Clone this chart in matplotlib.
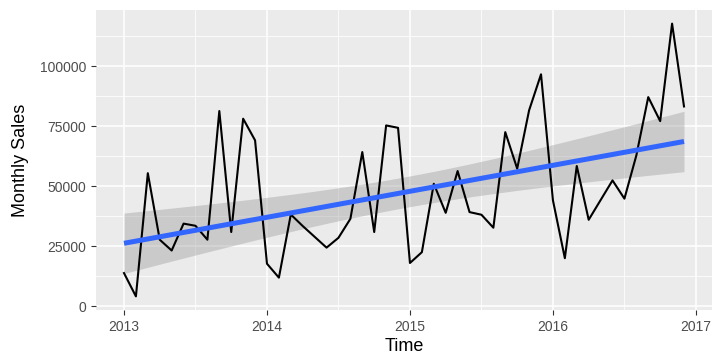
import matplotlib.pyplot as plt
import numpy as np

# monthly sales, Jan 2013 .. Dec 2016
sales = [13900, 4200, 55500, 27800, 23300, 34500, 33600, 27800, 81400, 31000, 78200, 69200,
         17800, 12000, 38300, 33500, 29000, 24500, 28600, 36500, 64300, 31000, 75400, 74400,
         18100, 22600, 51100, 39000, 56400, 39300, 38200, 32800, 72600, 57400, 81700, 96700,
         44200, 20100, 58500, 36100, 44300, 52500, 44900, 62900, 87200, 77200, 117800, 83300]
start_year = 2013
x_ticks = [2013, 2014, 2015, 2016, 2017]
y_ticks = [0, 25000, 50000, 75000, 100000]

t = start_year + np.arange(len(sales)) / 12.0
y = np.array(sales, dtype=float)

# linear fit with 95% confidence band (like geom_smooth(method='lm'))
n = len(t)
b, a = np.polyfit(t, y, 1)
fit = a + b * t
resid = y - fit
s = np.sqrt(np.sum(resid ** 2) / (n - 2))
tcrit = 2.0129  # t(0.975, 46)
se = s * np.sqrt(1.0 / n + (t - t.mean()) ** 2 / np.sum((t - t.mean()) ** 2))
lo = fit - tcrit * se
hi = fit + tcrit * se

plt.rcParams['font.family'] = ['Liberation Sans', 'DejaVu Sans']

fig = plt.figure(figsize=(7.2, 3.59), dpi=100)
ax = fig.add_axes([96 / 720, 1 - 310 / 359, 616 / 720, 300 / 359])
ax.set_facecolor('#EBEBEB')

# grid
for xv in np.arange(2012.5, 2017.6, 0.5):
    major = abs(xv - round(xv)) < 1e-6
    ax.axvline(xv, color='white', lw=1.1 if major else 0.55, zorder=0)
for yv in np.arange(-12500, 130000, 12500):
    major = yv % 25000 == 0
    ax.axhline(yv, color='white', lw=1.1 if major else 0.55, zorder=0)

ax.fill_between(t, lo, hi, color='#999999', alpha=0.4, lw=0, zorder=2)
ax.plot(t, y, color='black', lw=1.5, zorder=3)
ax.plot(t, fit, color='#3366FF', lw=3.6, zorder=4, solid_capstyle='butt')

ymin = min(y.min(), lo.min())
ymax = max(y.max(), hi.max())
pad = (ymax - ymin) * 0.05
ax.set_ylim(ymin - pad, ymax + pad)
xpad = (t[-1] - t[0]) * 0.05
ax.set_xlim(t[0] - xpad, t[-1] + xpad)

ax.set_xticks(x_ticks)
ax.set_yticks(y_ticks)
ax.set_xticklabels([str(v) for v in x_ticks])
ax.set_yticklabels([str(v) for v in y_ticks])
ax.tick_params(colors='#333333', labelcolor='#4D4D4D', labelsize=10, length=3.5, width=0.8)
for sp in ax.spines.values():
    sp.set_visible(False)

ax.set_xlabel('Time', fontsize=13, labelpad=3)
ax.set_ylabel('Monthly Sales', fontsize=13, labelpad=8)

plt.savefig('out.png', dpi=100, facecolor='white')
